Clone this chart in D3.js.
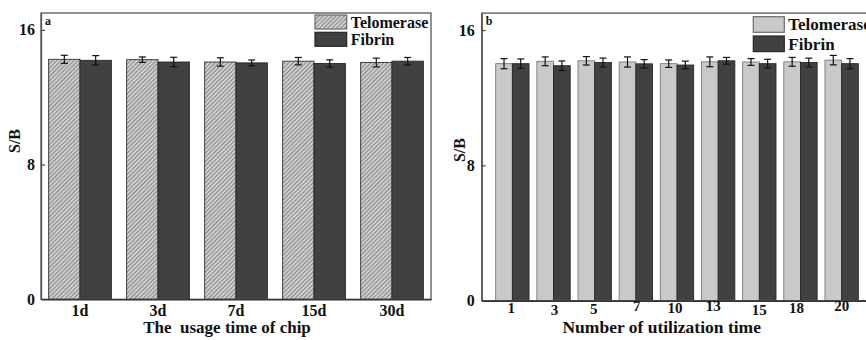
<!DOCTYPE html>
<html>
<head>
<meta charset="utf-8">
<script src="https://cdn.jsdelivr.net/npm/d3@7"></script>
<style>
  body { margin: 0; background: #fff; }
  svg { display: block; }
</style>
</head>
<body>
<script>
// chart data
var yTicks = [0, 8, 16];
var seriesNames = ["Telomerase", "Fibrin"];

// panel a: storage time of the chip
var daysLabels = ["1d", "3d", "7d", "15d", "30d"];
var daysTelomerase = [14.25, 14.23, 14.09, 14.14, 14.06];
var daysTelomeraseErr = [0.24, 0.16, 0.25, 0.22, 0.26];
var daysFibrin = [14.19, 14.09, 14.04, 14.00, 14.14];
var daysFibrinErr = [0.28, 0.28, 0.17, 0.22, 0.22];

// panel b: number of uses
var usesLabels = ["1", "3", "5", "7", "10", "13", "15", "18", "20"];
var usesTelomerase = [14.01, 14.15, 14.18, 14.11, 14.01, 14.12, 14.11, 14.12, 14.22];
var usesTelomeraseErr = [0.30, 0.26, 0.25, 0.30, 0.22, 0.29, 0.20, 0.26, 0.28];
var usesFibrin = [14.01, 13.89, 14.08, 14.00, 13.93, 14.18, 14.01, 14.08, 14.01];
var usesFibrinErr = [0.28, 0.28, 0.26, 0.25, 0.23, 0.20, 0.26, 0.26, 0.30];

// the original has its panel b tick labels slightly jumbled
var usesLabelDx = [-1, 1, -1, 1, -2, -5, 0, -4, 0];
var usesLabelDy = [0, 2, 1, -2, 0, -2, 2, 0, -2];

var FONT = "'Liberation Serif', 'Times New Roman', Times, 'DejaVu Serif', serif";

var svg = d3.select("body").append("svg")
    .attr("width", 866).attr("height", 340)
    .attr("font-family", FONT).attr("font-weight", "bold");

// hatch for the telomerase bars of panel a
var defs = svg.append("defs");
var hatch = defs.append("pattern")
    .attr("id", "hatch")
    .attr("patternUnits", "userSpaceOnUse")
    .attr("width", 3).attr("height", 3)
    .attr("patternTransform", "rotate(45)");
hatch.append("rect").attr("width", 3).attr("height", 3).attr("fill", "#cecece");
hatch.append("line").attr("x1", 0).attr("y1", 0).attr("x2", 0).attr("y2", 3)
    .attr("stroke", "#5e5e5e").attr("stroke-width", 1.3);

function drawPanel(p) {
  var width = p.right - p.left,
      height = p.bottom - p.top;

  var g = svg.append("g").attr("transform", "translate(" + p.left + "," + p.top + ")");

  var x0 = d3.scaleBand().domain(p.labels).range([0, width])
      .paddingInner(p.padIn).paddingOuter(p.padOut);
  var x1 = d3.scaleBand().domain(seriesNames).range([0, x0.bandwidth()]);
  var y = d3.scaleLinear().domain([0, 17]).range([height, 0]);

  var rows = p.labels.map(function(l, i) {
    return {label: l, values: [
      {key: "Telomerase", v: p.tel[i], e: p.telErr[i]},
      {key: "Fibrin", v: p.fib[i], e: p.fibErr[i]}
    ]};
  });

  // bars
  var groups = g.selectAll(".grp").data(rows).enter().append("g")
      .attr("class", "grp")
      .attr("transform", function(d) { return "translate(" + x0(d.label) + ",0)"; });

  groups.selectAll("rect").data(function(d) { return d.values; }).enter().append("rect")
      .attr("x", function(d) { return x1(d.key); })
      .attr("y", function(d) { return y(d.v); })
      .attr("width", x1.bandwidth())
      .attr("height", function(d) { return height - y(d.v); })
      .attr("fill", function(d) { return d.key == "Telomerase" ? p.telFill : "#414141"; })
      .attr("stroke", function(d) { return d.key == "Telomerase" ? p.telStroke : "#262626"; })
      .attr("stroke-width", 0.9);

  // error bars
  var cap = 3.5;
  var eb = groups.selectAll(".err").data(function(d) { return d.values; }).enter().append("g")
      .attr("class", "err")
      .attr("stroke", "#111").attr("stroke-width", 1.2);
  eb.append("line")
      .attr("x1", function(d) { return x1(d.key) + x1.bandwidth() / 2; })
      .attr("x2", function(d) { return x1(d.key) + x1.bandwidth() / 2; })
      .attr("y1", function(d) { return y(d.v + d.e); })
      .attr("y2", function(d) { return y(d.v - d.e); });
  [1, -1].forEach(function(s) {
    eb.append("line")
        .attr("x1", function(d) { return x1(d.key) + x1.bandwidth() / 2 - cap; })
        .attr("x2", function(d) { return x1(d.key) + x1.bandwidth() / 2 + cap; })
        .attr("y1", function(d) { return y(d.v + s * d.e); })
        .attr("y2", function(d) { return y(d.v + s * d.e); });
  });

  // frame
  g.append("rect")
      .attr("width", width).attr("height", height)
      .attr("fill", "none").attr("stroke", "#555").attr("stroke-width", 1.3);

  // y axis, ticks pointing in
  var yAxis = g.append("g")
      .call(d3.axisLeft(y).tickValues(yTicks).tickSizeInner(-4).tickSizeOuter(0).tickPadding(p.yPad))
      .attr("font-family", FONT).attr("font-size", 16);
  yAxis.select(".domain").attr("stroke", "#555").attr("stroke-width", 1.3);
  yAxis.selectAll(".tick line").attr("stroke", "#444").attr("stroke-width", 1.2);
  yAxis.selectAll(".tick text").attr("fill", "#111");
  yAxis.selectAll(".tick").filter(function(d) { return d === 0; }).select("line").remove();

  // x axis
  var xAxis = g.append("g")
      .attr("transform", "translate(0," + height + ")")
      .call(d3.axisBottom(x0).tickSize(0).tickPadding(p.xPad))
      .attr("font-family", FONT).attr("font-size", p.xTickSize);
  xAxis.select(".domain").attr("stroke", "#333").attr("stroke-width", 1.6);
  xAxis.selectAll(".tick text").attr("fill", "#111");
  if (p.labelDx) {
    xAxis.selectAll(".tick text")
        .attr("dx", function(d, i) { return p.labelDx[i]; })
        .attr("transform", function(d, i) { return "translate(0," + p.labelDy[i] + ")"; });
  }

  // axis titles
  g.append("text")
      .attr("text-anchor", "middle")
      .attr("transform", "translate(" + p.yTitleX + "," + p.yTitleY + ")rotate(-90)")
      .attr("font-size", 16).attr("fill", "#111")
      .text("S/B");

  g.append("text")
      .attr("text-anchor", "middle")
      .attr("x", p.xTitleX).attr("y", height + p.xTitleDy)
      .attr("font-size", p.xTitleSize).attr("fill", "#111")
      .style("white-space", "pre")
      .text(p.xTitle);

  // panel letter
  g.append("text")
      .attr("x", 4).attr("y", 11.5)
      .attr("font-size", 12).attr("fill", "#111")
      .text(p.letter);

  // legend
  var lg = g.append("g").attr("transform", "translate(" + p.legX + "," + p.legY + ")");
  seriesNames.forEach(function(name, i) {
    lg.append("rect")
        .attr("x", 0).attr("y", i * p.legStep)
        .attr("width", p.legW).attr("height", p.legH)
        .attr("fill", name == "Telomerase" ? p.telFill : "#414141")
        .attr("stroke", name == "Telomerase" ? "#6a6a6a" : "#262626")
        .attr("stroke-width", 1.2);
    lg.append("text")
        .attr("x", p.legW + 4).attr("y", i * p.legStep + p.legH / 2)
        .attr("dy", "0.35em")
        .attr("font-size", p.legSize).attr("fill", "#111")
        .text(name);
  });
}

drawPanel({
  letter: "a",
  left: 41, right: 431, top: 13, bottom: 299.3,
  labels: daysLabels, tel: daysTelomerase, telErr: daysTelomeraseErr,
  fib: daysFibrin, fibErr: daysFibrinErr,
  padIn: 0.196, padOut: 0.098,
  telFill: "url(#hatch)", telStroke: "#333",
  yPad: 6, xPad: 5.5, xTickSize: 16,
  yTitleX: -21, yTitleY: 128,
  xTitle: "The  usage time of chip", xTitleX: 186, xTitleDy: 34, xTitleSize: 17,
  legX: 274, legY: 2, legW: 31.7, legH: 14, legStep: 17.3, legSize: 16
});

drawPanel({
  letter: "b",
  left: 481.7, right: 872.3, top: 13.1, bottom: 300.7,
  labels: usesLabels, tel: usesTelomerase, telErr: usesTelomeraseErr,
  fib: usesFibrin, fibErr: usesFibrinErr,
  padIn: 0.19, padOut: 0.34,
  telFill: "#c9c9c9", telStroke: "#7a7a7a",
  labelDx: usesLabelDx, labelDy: usesLabelDy,
  yPad: 7, xPad: 2, xTickSize: 15,
  yTitleX: -17, yTitleY: 137,
  xTitle: "Number of utilization time", xTitleX: 180, xTitleDy: 32, xTitleSize: 17.5,
  legX: 271.6, legY: 3.6, legW: 31, legH: 15.6, legStep: 19.3, legSize: 17
});
</script>
</body>
</html>
